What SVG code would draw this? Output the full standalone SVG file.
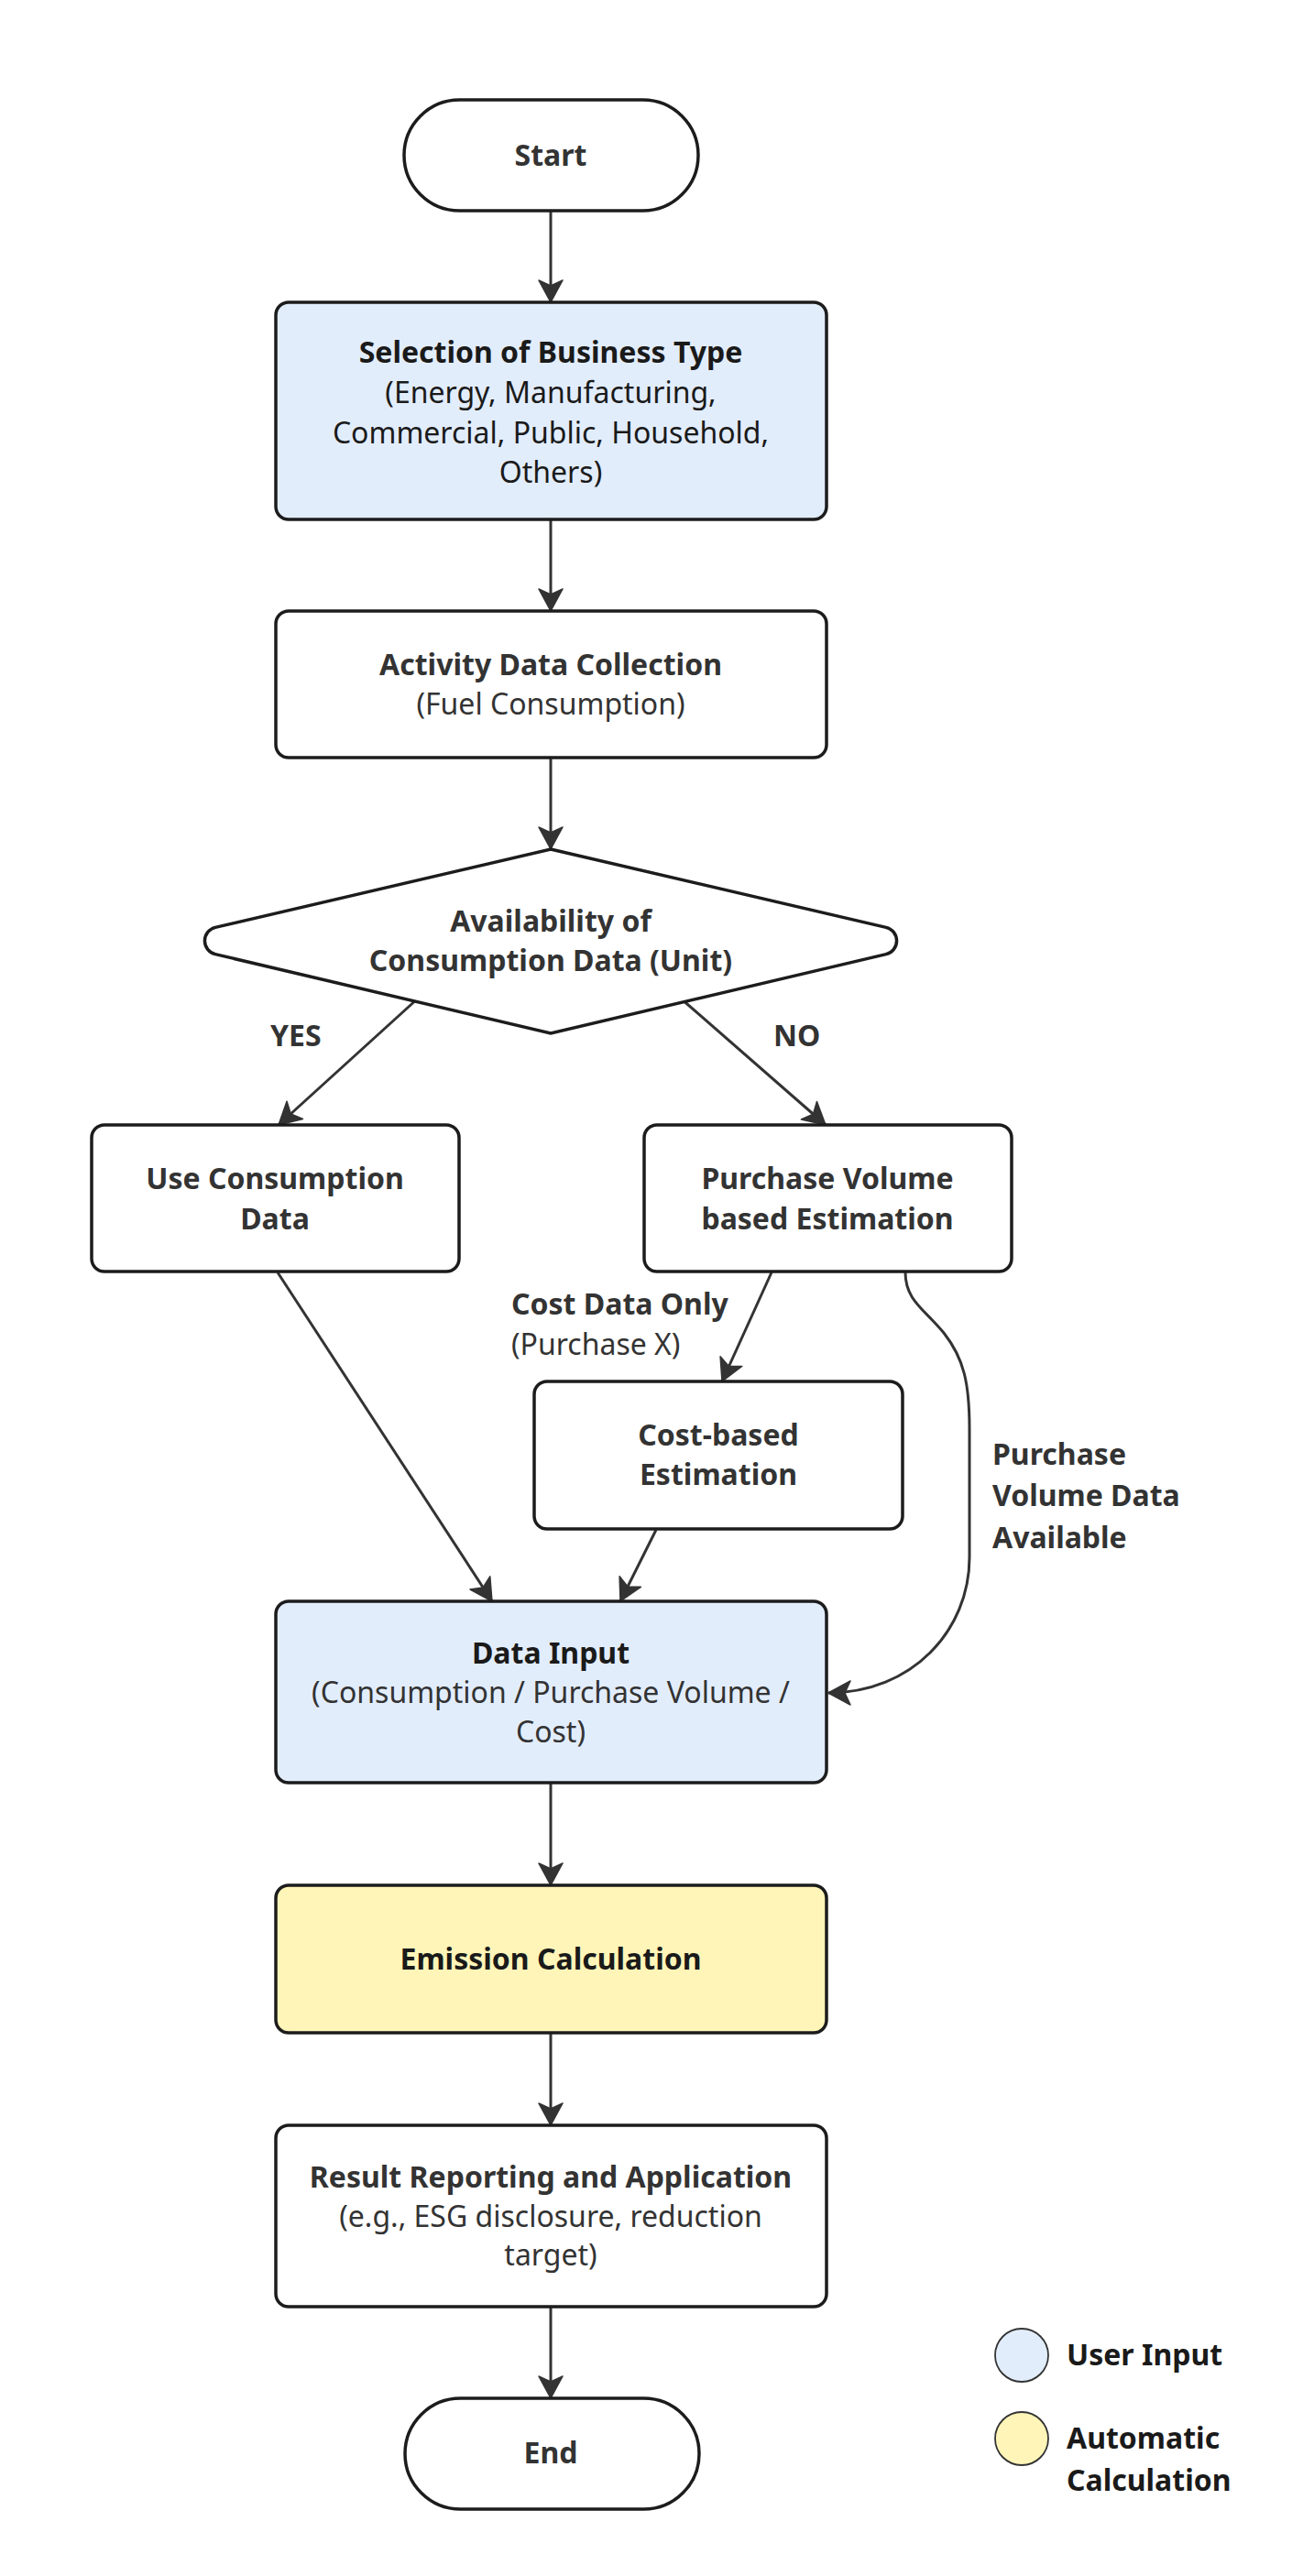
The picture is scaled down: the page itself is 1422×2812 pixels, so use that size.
<svg xmlns="http://www.w3.org/2000/svg" width="1422" height="2812" viewBox="0 0 1422 2812">
  <style>
    .box { stroke: #1c1c1c; stroke-width: 3.5; fill: #ffffff; }
    .user { fill: #e2edfc; }
    .auto { fill: #fff5b8; }
    .edge { fill: none; stroke: #333333; stroke-width: 3; }
    text { font-family: "Noto Sans", "Open Sans", "Liberation Sans", sans-serif; font-size: 32px; fill: #333333; }
    .c { text-anchor: middle; }
    .b { font-weight: 700; }
    .dark { fill: #1a1a1a; }
    .legend { stroke: #333333; stroke-width: 1.8; }
  </style>
  <defs>
    <marker id="arrow" markerUnits="userSpaceOnUse" markerWidth="26" markerHeight="28" viewBox="0 0 26 28" refX="25" refY="14" orient="auto">
      <path d="M25,14 L1,1 L7,14 L1,27 Z" fill="#333333" stroke="#333333" stroke-width="1.5" stroke-linejoin="round"/>
    </marker>
  </defs>
  <rect width="1422" height="2812" fill="#ffffff"/>

  <!-- connectors -->
  <g id="connectors">
    <path class="edge" d="M601,230 L601,330" marker-end="url(#arrow)"/>
    <path class="edge" d="M601,567 L601,667" marker-end="url(#arrow)"/>
    <path class="edge" d="M601,827 L601,927" marker-end="url(#arrow)"/>
    <path class="edge" d="M457,1089 L304,1228" marker-end="url(#arrow)"/>
    <path class="edge" d="M743,1090 L901,1228" marker-end="url(#arrow)"/>
    <path class="edge" d="M303,1389 L537,1748" marker-end="url(#arrow)"/>
    <path class="edge" d="M842,1389 L788,1508" marker-end="url(#arrow)"/>
    <path class="edge" d="M716,1670 L677,1748" marker-end="url(#arrow)"/>
    <path class="edge" d="M988,1389 C988,1420 1010,1430 1030,1455 C1052,1483 1058,1510 1058,1560 L1058,1700 C1058,1780 995,1848 904,1848" marker-end="url(#arrow)"/>
    <path class="edge" d="M601,1946 L601,2058" marker-end="url(#arrow)"/>
    <path class="edge" d="M601,2219 L601,2320" marker-end="url(#arrow)"/>
    <path class="edge" d="M601,2518 L601,2618" marker-end="url(#arrow)"/>
  </g>

  <!-- edge labels -->
  <g id="edge-labels">
    <text class="b" x="295" y="1142">YES</text>
    <text class="b" x="844" y="1142">NO</text>
    <text class="b" x="558" y="1435">Cost Data Only</text>
    <text x="558" y="1479">(Purchase X)</text>
    <text class="b" x="1083" y="1599">Purchase</text>
    <text class="b" x="1083" y="1644">Volume Data</text>
    <text class="b" x="1083" y="1690">Available</text>
  </g>

  <g id="start">
    <rect class="box" x="441" y="109" width="321" height="121" rx="60.5"/>
    <text class="b c" x="601" y="181">Start</text>
  </g>

  <g id="business-type">
    <rect class="box user" x="301" y="330" width="601" height="237" rx="14"/>
    <text class="b c dark" x="601" y="396">Selection of Business Type</text>
    <text class="c dark" x="601" y="440">(Energy, Manufacturing,</text>
    <text class="c dark" x="601" y="484">Commercial, Public, Household,</text>
    <text class="c dark" x="601" y="527">Others)</text>
  </g>

  <g id="activity-data">
    <rect class="box" x="301" y="667" width="601" height="160" rx="14"/>
    <text class="b c" x="601" y="737">Activity Data Collection</text>
    <text class="c" x="601" y="780">(Fuel Consumption)</text>
  </g>

  <g id="availability">
    <path class="box" d="M601,927 L967,1012.4 A15,15 0 0 1 967,1041.6 L601,1128 L235,1041.6 A15,15 0 0 1 235,1012.4 Z"/>
    <text class="b c" x="601" y="1017">Availability of</text>
    <text class="b c" x="601" y="1060">Consumption Data (Unit)</text>
  </g>

  <g id="use-consumption">
    <rect class="box" x="100" y="1228" width="401" height="160" rx="14"/>
    <text class="b c" x="300" y="1298">Use Consumption</text>
    <text class="b c" x="300" y="1342">Data</text>
  </g>

  <g id="purchase-volume">
    <rect class="box" x="703" y="1228" width="401" height="160" rx="14"/>
    <text class="b c" x="903" y="1298">Purchase Volume</text>
    <text class="b c" x="903" y="1342">based Estimation</text>
  </g>

  <g id="cost-based">
    <rect class="box" x="583" y="1508" width="402" height="161" rx="14"/>
    <text class="b c" x="784" y="1578">Cost-based</text>
    <text class="b c" x="784" y="1621">Estimation</text>
  </g>

  <g id="data-input">
    <rect class="box user" x="301" y="1748" width="601" height="198" rx="14"/>
    <text class="b c dark" x="601" y="1816">Data Input</text>
    <text class="c" x="601" y="1859">(Consumption / Purchase Volume /</text>
    <text class="c" x="601" y="1902">Cost)</text>
  </g>

  <g id="emission-calculation">
    <rect class="box auto" x="301" y="2058" width="601" height="161" rx="14"/>
    <text class="b c dark" x="601" y="2150">Emission Calculation</text>
  </g>

  <g id="result-reporting">
    <rect class="box" x="301" y="2320" width="601" height="198" rx="14"/>
    <text class="b c" x="601" y="2388">Result Reporting and Application</text>
    <text class="c" x="601" y="2431">(e.g., ESG disclosure, reduction</text>
    <text class="c" x="601" y="2473">target)</text>
  </g>

  <g id="end">
    <rect class="box" x="442" y="2618" width="321" height="121" rx="60.5"/>
    <text class="b c" x="601" y="2689">End</text>
  </g>

  <g id="legend">
    <circle class="legend user" cx="1115" cy="2571" r="29"/>
    <text class="b dark" x="1164" y="2582">User Input</text>
    <circle class="legend auto" cx="1115" cy="2662" r="29"/>
    <text class="b dark" x="1164" y="2673">Automatic</text>
    <text class="b dark" x="1164" y="2719">Calculation</text>
  </g>
</svg>
